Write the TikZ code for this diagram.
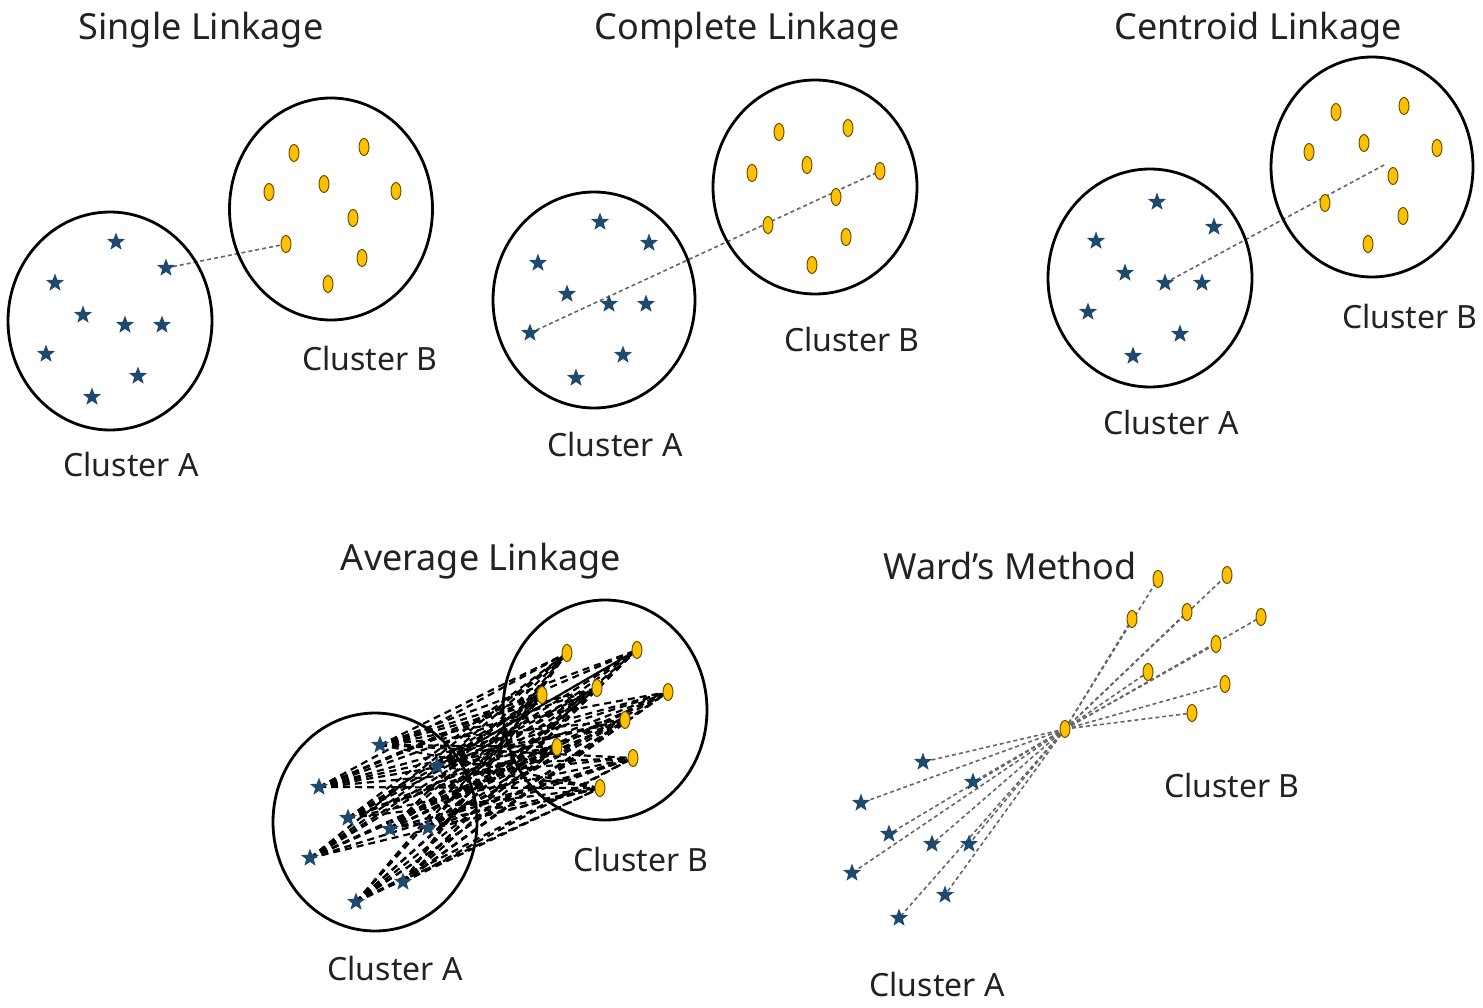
\documentclass[tikz,border=0pt]{standalone}
\usepackage{fontspec}
\setmainfont{Noto Sans}
\usetikzlibrary{shapes.geometric,backgrounds}
\definecolor{starblue}{HTML}{1F4A70}
\definecolor{dotfill}{HTML}{FFC000}
\definecolor{dotdraw}{HTML}{6B5200}
\definecolor{txt}{HTML}{222222}
\tikzset{
 bstar/.style={star, star points=5, star point ratio=2.4, fill=starblue, draw=none, minimum size=19pt, inner sep=0pt},
 ydot/.style={ellipse, fill=dotfill, draw=dotdraw, line width=1pt, minimum width=10pt, minimum height=17pt, inner sep=0pt},
 clus/.style={ellipse, draw=black, line width=2.8pt, inner sep=0pt},
 lbl/.style={font=\fontsize{32}{38}\selectfont, text=txt},
 ttl/.style={font=\fontsize{36}{42}\selectfont, text=txt},
 link/.style={draw=black!60, dash pattern=on 4pt off 3pt, line width=1.6pt},
 avgl/.style={draw=black, dash pattern=on 7pt off 5pt, line width=2.2pt},
}
\begin{document}
\begin{tikzpicture}[x=1pt,y=-1pt]
\path[use as bounding box] (0,0) rectangle (1483,1008);

% ---------- Single Linkage ----------
\node[ttl] (t1) at (201,30) {Single Linkage};
\node[clus, minimum width=204pt, minimum height=218pt] (c1a) at (110,321) {};
\node[clus, minimum width=203pt, minimum height=222pt] (c1b) at (331,209) {};
\foreach \n/\x/\y in {1/116/242, 2/166/268, 3/55/283, 4/83/315, 5/125/325, 6/162/325, 7/46/354, 8/138/376, 9/92/397}
  \node[bstar] (s1-\n) at (\x,\y) {};
\foreach \n/\x/\y in {1/294/153, 2/364/147, 3/269/192, 4/324/184, 5/396/191, 6/353/218, 7/286/244, 8/362/258, 9/328/284}
  \node[ydot] (o1-\n) at (\x,\y) {};
\node[lbl] (l1a) at (131,464) {Cluster A};
\node[lbl] (l1b) at (370,358) {Cluster B};
\begin{scope}[on background layer]
  \draw[link] (s1-2.center) -- (o1-7.center);
\end{scope}

% ---------- Complete Linkage ----------
\node[ttl] (t2) at (747,30) {Complete Linkage};
\node[clus, minimum width=202pt, minimum height=216pt] (c2a) at (594,300) {};
\node[clus, minimum width=204pt, minimum height=214pt] (c2b) at (815,187) {};
\foreach \n/\x/\y in {1/600/222, 2/538/263, 3/649/243, 4/567/294, 5/609/304, 6/646/304, 7/530/333, 8/623/355, 9/576/378}
  \node[bstar] (s2-\n) at (\x,\y) {};
\foreach \n/\x/\y in {1/779/132, 2/848/128, 3/752/173, 4/807/165, 5/880/171, 6/836/197, 7/768/225, 8/846/237, 9/812/265}
  \node[ydot] (o2-\n) at (\x,\y) {};
\node[lbl] (l2a) at (615,444) {Cluster A};
\node[lbl] (l2b) at (852,339) {Cluster B};
\begin{scope}[on background layer]
  \draw[link] (s2-7.center) -- (o2-5.center);
\end{scope}

% ---------- Centroid Linkage ----------
\node[ttl] (t3) at (1258,30) {Centroid Linkage};
\node[clus, minimum width=204pt, minimum height=218pt] (c3a) at (1150,278) {};
\node[clus, minimum width=202pt, minimum height=220pt] (c3b) at (1372,167) {};
\foreach \n/\x/\y in {1/1157/202, 2/1214/227, 3/1096/241, 4/1125/273, 5/1165/283, 6/1202/283, 7/1088/312, 8/1180/334, 9/1133/356}
  \node[bstar] (s3-\n) at (\x,\y) {};
\foreach \n/\x/\y in {1/1336/112, 2/1404/106, 3/1309/152, 4/1364/143, 5/1437/148, 6/1393/176, 7/1325/203, 8/1403/216, 9/1368/244}
  \node[ydot] (o3-\n) at (\x,\y) {};
\coordinate (cen3) at (1384,165);
\node[lbl] (l3a) at (1171,422) {Cluster A};
\node[lbl] (l3b) at (1410,316) {Cluster B};
\begin{scope}[on background layer]
  \draw[link] (s3-5.center) -- (cen3);
\end{scope}

% ---------- Average Linkage ----------
\node[ttl] (t4) at (481,561) {Average Linkage};
\node[clus, minimum width=204pt, minimum height=218pt] (c4a) at (375,822) {};
\node[clus, minimum width=204pt, minimum height=220pt] (c4b) at (605,710) {};
\foreach \n/\x/\y in {1/380/745, 2/437/766, 3/319/787, 4/348/818, 5/390/829, 6/428/828, 7/310/858, 8/403/882, 9/356/902}
  \node[bstar] (s4-\n) at (\x,\y) {};
\foreach \n/\x/\y in {1/567/653, 2/637/650, 3/542/695, 4/597/688, 5/668/692, 6/625/720, 7/557/747, 8/633/758, 9/600/788}
  \node[ydot] (o4-\n) at (\x,\y) {};
\node[lbl] (l4a) at (395,968) {Cluster A};
\node[lbl] (l4b) at (641,859) {Cluster B};
\begin{scope}[on background layer]
  \foreach \i in {1,...,9}
    \foreach \j in {1,...,9}
      \draw[avgl] (s4-\i.center) -- (o4-\j.center);
\end{scope}

% ---------- Ward's Method ----------
\node[ttl] (t5) at (1010,566) {Ward’s Method};
\foreach \n/\x/\y in {1/923/762, 2/973/782, 3/861/803, 4/889/834, 5/932/844, 6/969/844, 7/852/873, 8/945/895, 9/899/918}
  \node[bstar] (s5-\n) at (\x,\y) {};
\foreach \n/\x/\y in {1/1158/579, 2/1227/575, 3/1132/619, 4/1187/612, 5/1261/617, 6/1216/644, 7/1148/672, 8/1225/684, 9/1192/713}
  \node[ydot] (o5-\n) at (\x,\y) {};
\node[ydot] (w5) at (1065,729) {};
\node[lbl] (l5a) at (937,984) {Cluster A};
\node[lbl] (l5b) at (1232,785) {Cluster B};
\begin{scope}[on background layer]
  \foreach \i in {1,...,9} {
    \draw[link] (w5.center) -- (s5-\i.center);
    \draw[link] (w5.center) -- (o5-\i.center);
  }
\end{scope}
\end{tikzpicture}
\end{document}
